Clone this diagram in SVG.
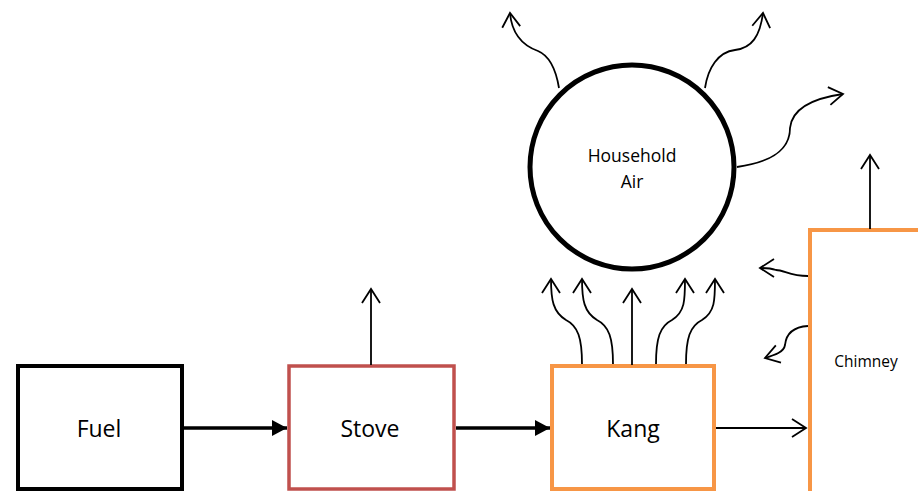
<svg xmlns="http://www.w3.org/2000/svg" width="918" height="491" viewBox="0 0 918 491">
<style>
.lbl{font-family:"Open Sans","Liberation Sans",sans-serif;fill:#000;text-anchor:middle}
.big{font-size:23px}
.small{font-size:17.5px}
.tiny{font-size:15.5px}
.thin{fill:none;stroke:#000;stroke-width:1.8}
.thick{fill:none;stroke:#000;stroke-width:3.5}
</style>
<defs>
<marker id="open" viewBox="0 0 20 20" refX="18" refY="10" markerWidth="20" markerHeight="20" markerUnits="userSpaceOnUse" orient="auto">
<path d="M4,1 L18,10 L4,19" fill="none" stroke="#000" stroke-width="1.8"/>
</marker>
<marker id="solid" viewBox="0 0 16 16" refX="15" refY="8" markerWidth="16" markerHeight="16" markerUnits="userSpaceOnUse" orient="auto">
<path d="M0,0 L15,8 L0,16 Z" fill="#000"/>
</marker>
</defs>
<rect width="918" height="491" fill="#fff"/>
<g id="fuel">
<rect x="18" y="366" width="164" height="123" fill="#fff" stroke="#000" stroke-width="4"/>
<text class="lbl big" x="99" y="437">Fuel</text>
</g>
<g id="stove">
<rect x="289" y="366" width="165" height="123" fill="#fff" stroke="#C0504D" stroke-width="3.5"/>
<text class="lbl big" x="370" y="437">Stove</text>
</g>
<g id="kang">
<rect x="552" y="366" width="162" height="123" fill="#fff" stroke="#F79646" stroke-width="4"/>
<text class="lbl big" x="633" y="437">Kang</text>
</g>
<g id="chimney">
<path d="M810,495 L810,230 L922,230" fill="#fff" stroke="#F79646" stroke-width="4"/>
<text class="lbl tiny" x="866" y="367">Chimney</text>
</g>
<g id="household-air">
<circle cx="632" cy="167" r="102" fill="#fff" stroke="#000" stroke-width="5"/>
<text class="lbl small" x="632" y="162">Household</text>
<text class="lbl small" x="632" y="188">Air</text>
</g>
<g id="connectors">
<line class="thick" x1="184" y1="428" x2="287" y2="428" marker-end="url(#solid)"/>
<line class="thick" x1="456" y1="428" x2="550" y2="428" marker-end="url(#solid)"/>
<line class="thin" x1="716" y1="428" x2="806" y2="428" marker-end="url(#open)"/>
<line class="thin" x1="371" y1="365" x2="371" y2="289" marker-end="url(#open)"/>
<line class="thin" x1="632" y1="365" x2="632" y2="289" marker-end="url(#open)"/>
<line class="thin" x1="870" y1="229" x2="870" y2="155" marker-end="url(#open)"/>
<path class="thin" d="M582,364 C582,338 578,326 566,320 C553,312 551,300 551,279" marker-end="url(#open)"/>
<path class="thin" d="M613,364 C613,338 609,326 597,320 C584,312 582,300 582,279" marker-end="url(#open)"/>
<path class="thin" d="M656,364 C656,338 660,326 672,320 C685,312 685,300 685,279" marker-end="url(#open)"/>
<path class="thin" d="M686,364 C686,338 690,326 702,320 C715,312 715,300 715,279" marker-end="url(#open)"/>
<path class="thin" d="M559,88 C556,70 550,56 538,51 C524,46 512,36 510,13" marker-end="url(#open)"/>
<path class="thin" d="M705,88 C708,68 718,52 735,50 C752,48 760,36 763,13" marker-end="url(#open)"/>
<path class="thin" d="M737,167 C772,162 790,150 790,128 C792,108 815,98 843,94" marker-end="url(#open)"/>
<path class="thin" d="M808,276 C790,276 784,270 776,270 C770,268 766,268 760,268" marker-end="url(#open)"/>
<path class="thin" d="M808,326 C792,327 786,335 785,345 C784,352 775,355 765,358" marker-end="url(#open)"/>
</g>
</svg>
